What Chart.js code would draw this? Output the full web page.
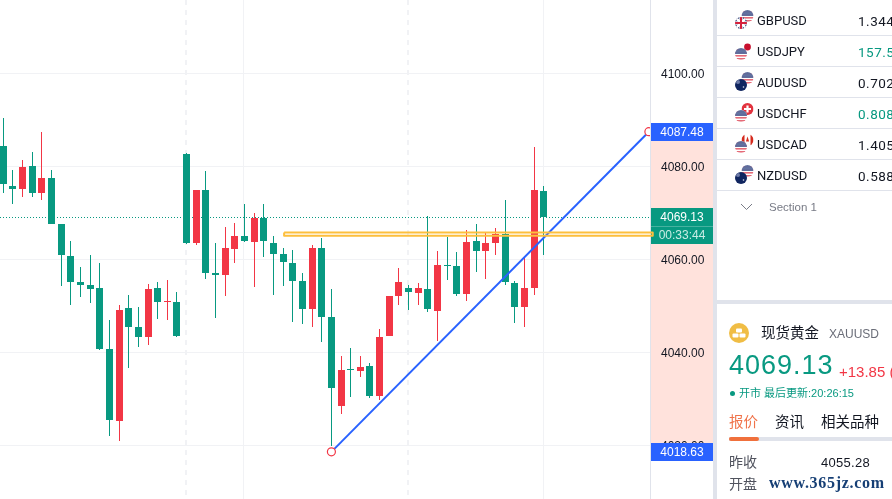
<!DOCTYPE html>
<html>
<head>
<meta charset="utf-8">
<script src="https://cdn.jsdelivr.net/npm/chart.js@4"></script>
<style>
  html, body { margin: 0; padding: 0; background: #fff; }
  body { width: 892px; height: 499px; overflow: hidden; position: relative;
         font-family: "Liberation Sans", "Noto Sans CJK SC", sans-serif; color: #131722; }
  #chart { position: absolute; left: 0; top: 0; }
  .band { position: absolute; background: #e0e3eb; }
  .abs { position: absolute; white-space: nowrap; line-height: 1; }
  .row { position: absolute; left: 717px; width: 175px; height: 30px; border-bottom: 1px solid #e0e3eb; overflow: hidden; }
  .row svg { position: absolute; left: 17px; top: 4px; }
  .row .sym { position: absolute; left: 40px; top: 9px; font-family: Roboto, sans-serif; font-size: 13px; line-height: 14px; }
  .row .px { position: absolute; left: 141px; top: 9px; font-family: Roboto, sans-serif; font-size: 13.5px; line-height: 14px; letter-spacing: .5px; }
</style>
</head>
<body>
<canvas id="chart" width="892" height="499"></canvas>

<div class="band" style="left:713px;top:0;width:4px;height:499px"></div>
<div class="band" style="left:713px;top:300px;width:179px;height:4px"></div>
<div id="watch"></div>

<svg class="abs" style="left:740px;top:203px" width="13" height="8"><path d="M1 1 L6.5 6.5 L12 1" fill="none" stroke="#787b86" stroke-width="1"/></svg>
<div class="abs" style="left:769px;top:202px;font-size:11.5px;color:#787b86">Section 1</div>

<svg class="abs" style="left:729px;top:323px" width="20" height="20">
  <circle cx="10" cy="10" r="10" fill="#f0bd45"/>
  <rect x="7" y="5.5" width="6" height="4" rx="1" fill="#fff"/>
  <rect x="3.5" y="10.5" width="6" height="4" rx="1" fill="#fff"/>
  <rect x="10.5" y="10.5" width="6" height="4" rx="1" fill="#fff"/>
</svg>
<div class="abs" style="left:761px;top:326px;font-size:14.5px;color:#131722">现货黄金</div>
<div class="abs" style="left:829px;top:328px;font-size:12px;color:#6a6d78">XAUUSD</div>
<div class="abs" style="left:729px;top:352px;font-size:27px;letter-spacing:1px;color:#089981">4069.13</div>
<div class="abs" style="left:839px;top:364px;font-size:15px;color:#f23645">+13.85 (</div>
<div class="abs" style="left:730px;top:391px;width:5px;height:5px;border-radius:50%;background:#089981"></div>
<div class="abs" style="left:739px;top:388px;font-size:11px;color:#089981">开市 最后更新:20:26:15</div>
<div class="abs" style="left:729px;top:415px;font-size:14.5px;color:#f0734a">报价</div>
<div class="abs" style="left:775px;top:415px;font-size:14.5px">资讯</div>
<div class="abs" style="left:821px;top:415px;font-size:14.5px">相关品种</div>
<div class="abs" style="left:729px;top:437px;width:163px;height:4px;background:#e0e3eb"></div>
<div class="abs" style="left:729px;top:437px;width:30px;height:4px;border-radius:2px;background:#f0703c"></div>
<div class="abs" style="left:729px;top:455px;font-size:14px;color:#50535e">昨收</div>
<div class="abs" style="left:821px;top:456px;font-size:13px;letter-spacing:.3px">4055.28</div>
<div class="abs" style="left:729px;top:477px;font-size:14px;color:#50535e">开盘</div>
<div class="abs" style="left:769px;top:475px;font-size:16px;font-weight:bold;font-family:'Liberation Serif',serif;letter-spacing:.7px;color:#163f75">www.365jz.com</div>

<script>
// candles, oldest first
const opens = [4084.4, 4075.8, 4075.2, 4080.1, 4074.3, 4077.5, 4067.6, 4060.8, 4055.2, 4054.5,
  4053.9, 4040.8, 4025.3, 4049.6, 4045.5, 4043.3, 4053.9, 4050.9, 4050.9, 4082.7,
  4063.6, 4075.0, 4057.1, 4056.7, 4062.3, 4065.1, 4063.8, 4068.9, 4063.6, 4061.2,
  4059.3, 4055.4, 4049.4, 4062.5, 4047.6, 4028.5, 4036.4, 4036.0, 4037.1, 4030.7,
  4043.6, 4052.2, 4053.9, 4052.8, 4053.7, 4048.9, 4058.8, 4058.6, 4052.6, 4064.0,
  4061.8, 4063.6, 4065.5, 4055.0, 4049.8, 4053.9, 4074.7];
const highs = [4090.4, 4079.3, 4081.4, 4083.1, 4087.4, 4079.3, 4067.6, 4064.0, 4058.4, 4061.0,
  4059.3, 4047.0, 4050.2, 4052.4, 4049.8, 4054.7, 4055.2, 4055.6, 4053.0, 4082.9,
  4075.0, 4079.0, 4063.6, 4067.0, 4067.9, 4071.9, 4070.0, 4071.9, 4065.1, 4062.5,
  4062.0, 4057.1, 4063.1, 4064.6, 4053.7, 4039.3, 4041.0, 4039.3, 4037.7, 4045.1,
  4052.2, 4058.2, 4054.5, 4055.0, 4069.4, 4061.8, 4064.8, 4061.6, 4066.3, 4067.6,
  4065.7, 4066.8, 4072.8, 4055.4, 4060.5, 4084.2, 4075.8];
const lows = [4074.4, 4071.9, 4073.4, 4073.4, 4072.8, 4067.6, 4054.3, 4050.2, 4051.9, 4050.6,
  4040.5, 4022.0, 4021.0, 4036.7, 4041.2, 4041.6, 4047.2, 4047.0, 4043.3, 4063.3,
  4063.1, 4055.8, 4047.4, 4052.2, 4059.3, 4063.8, 4054.1, 4060.5, 4052.4, 4054.3,
  4046.6, 4046.1, 4045.5, 4042.3, 4019.9, 4026.8, 4030.4, 4034.7, 4030.2, 4029.8,
  4043.6, 4050.2, 4049.1, 4050.2, 4048.7, 4042.5, 4055.6, 4052.2, 4051.1, 4057.3,
  4055.8, 4061.0, 4054.5, 4046.3, 4045.5, 4052.4, 4061.0];
const closes = [4076.2, 4075.2, 4079.9, 4074.3, 4077.5, 4067.6, 4061.0, 4055.2, 4054.5, 4053.7,
  4040.8, 4025.5, 4049.1, 4045.5, 4043.3, 4053.7, 4050.9, 4051.1, 4043.6, 4063.6,
  4075.0, 4057.1, 4056.7, 4062.5, 4065.1, 4064.0, 4068.9, 4064.0, 4061.2, 4059.5,
  4055.4, 4049.4, 4062.5, 4047.6, 4032.4, 4036.2, 4036.2, 4036.9, 4030.7, 4043.3,
  4052.2, 4055.2, 4053.0, 4053.9, 4049.4, 4058.8, 4058.6, 4052.6, 4063.8, 4061.8,
  4063.6, 4065.5, 4055.2, 4049.8, 4053.9, 4075.0, 4069.13];

const yTicks = [4100, 4080, 4060, 4040, 4020];
const solidGridX = [24.89, 55.96];
const dashedGridX = [18.91, 41.92];

const lastPrice = 4069.13;
const countdown = '00:33:44';
const trendLow = 4018.63;
const trendHigh = 4087.48;
const trendStart = 34;
const trendEnd = 66.9;
const zoneTop = 4065.8;
const zoneBottom = 4065.12;
const zoneStart = 29.1;
const zoneEnd = 67.3;

const watchSymbols = ['GBPUSD', 'USDJPY', 'AUDUSD', 'USDCHF', 'USDCAD', 'NZDUSD'];
const watchPrices = ['1.344', '157.5', '0.702', '0.808', '1.405', '0.588'];
const watchUp = [false, true, false, true, false, false];

const GREEN = '#089981';
const RED = '#f23645';
const BLUE = '#2962ff';
const XMIN = -0.342, XMAX = 67.016;

// flags for the watch list
let flagId = 0;
function flag(code, cx, cy) {
  const clip = 'f' + (flagId++);
  let art = '';
  if (code === 'US') {
    art = `<rect x="0" y="0" width="12" height="12" fill="#fff"/>` +
      [1, 4, 7, 10].map(y => `<rect x="0" y="${y}" width="12" height="1.6" fill="#e56b78"/>`).join('') +
      `<rect x="0" y="0" width="12" height="6" fill="#5a6c9c" opacity=".95"/>`;
  } else if (code === 'GB') {
    art = `<rect width="12" height="12" fill="#26356e"/><path d="M0 0L12 12M12 0L0 12" stroke="#fff" stroke-width="2.5"/>` +
      `<path d="M6 0V12M0 6H12" stroke="#fff" stroke-width="3.5"/><path d="M6 0V12M0 6H12" stroke="#d4213d" stroke-width="2"/>`;
  } else if (code === 'JP') {
    art = `<rect width="12" height="12" fill="#fff"/><circle cx="6" cy="6" r="3.4" fill="#c8102e"/>`;
  } else if (code === 'AU' || code === 'NZ') {
    art = `<rect width="12" height="12" fill="#10255f"/><circle cx="3" cy="3" r="2" fill="#6d7ba8"/><circle cx="8.5" cy="8" r=".8" fill="#dfe3ee"/>`;
  } else if (code === 'CH') {
    art = `<rect width="12" height="12" fill="#e2333f"/><path d="M6 2.5V9.5M2.5 6H9.5" stroke="#fff" stroke-width="2.2"/>`;
  } else if (code === 'CA') {
    art = `<rect width="12" height="12" fill="#fff"/><rect width="3" height="12" fill="#d52b1e"/><rect x="9" width="3" height="12" fill="#d52b1e"/><path d="M6 2.5L7.6 7.5H4.4Z" fill="#d52b1e"/>`;
  }
  return `<svg x="${cx - 6}" y="${cy - 6}" width="12" height="12"><clipPath id="${clip}"><circle cx="6" cy="6" r="6"/></clipPath><g clip-path="url(#${clip})">${art}</g></svg>`;
}

// [back flag, front flag]
const flagPairs = [['US', 'GB'], ['JP', 'US'], ['US', 'AU'], ['CH', 'US'], ['CA', 'US'], ['US', 'NZ']];
document.getElementById('watch').innerHTML = watchSymbols.map((s, i) => {
  const top = 5 + i * 31;
  return `<div class="row" style="top:${top}px">` +
    `<svg width="22" height="22">${flag(flagPairs[i][0], 13.5, 7)}${flag(flagPairs[i][1], 7, 14)}</svg>` +
    `<span class="sym">${s}</span>` +
    `<span class="px" style="color:${watchUp[i] ? GREEN : '#131722'}">${watchPrices[i]}</span></div>`;
}).join('');

function tag(ctx, scale, value, h, fill, text, color) {
  const y = scale.getPixelForValue(value);
  const x = scale.left + 1;
  ctx.fillStyle = fill;
  ctx.fillRect(x, Math.round(y - h / 2), scale.right - x - 3, h);
  ctx.fillStyle = color;
  ctx.font = '12px "Liberation Sans"';
  ctx.textAlign = 'center';
  ctx.textBaseline = 'middle';
  ctx.fillText(text, (x + scale.right - 3) / 2, Math.round(y) + 1);
}

// axis decorations: range highlight, price tags, crisp candle edges
const axisDecor = {
  id: 'axisDecor',
  beforeDraw(chart) {
    const { ctx, scales: { y } } = chart;
    const top = y.getPixelForValue(trendHigh);
    const bottom = y.getPixelForValue(trendLow);
    ctx.save();
    ctx.fillStyle = '#ffe2dc';
    ctx.fillRect(y.left, top, y.right - y.left - 3, bottom - top);
    ctx.restore();
    // tick labels sit one pixel lower in the original
    y.getLabelItems().forEach(item => { item.options.translation[1] += 1; });
  },
  beforeDatasetsDraw(chart) {
    const { ctx, scales: { y } } = chart;
    ctx.save();
    tag(ctx, y, trendHigh, 18, BLUE, trendHigh.toFixed(2), '#fff');
    tag(ctx, y, trendLow, 18, BLUE, trendLow.toFixed(2), '#fff');
    const ly = Math.round(y.getPixelForValue(lastPrice));
    ctx.fillStyle = GREEN;
    ctx.fillRect(y.left + 1, ly - 9, y.right - y.left - 4, 36);
    ctx.fillStyle = 'rgba(255,255,255,.25)';
    ctx.fillRect(y.left + 1, ly + 9, y.right - y.left - 4, 1);
    ctx.font = '12px "Liberation Sans"';
    ctx.textAlign = 'center';
    ctx.textBaseline = 'middle';
    const cx = (y.left + 1 + y.right - 3) / 2;
    ctx.fillStyle = '#fff';
    ctx.fillText(lastPrice.toFixed(2), cx, ly + 1);
    ctx.fillStyle = '#c9ece4';
    ctx.fillText(countdown, cx, ly + 19);
    ctx.restore();

    // snap candle rectangles and the dotted price line to whole pixels
    chart.data.datasets.forEach((ds, i) => {
      const meta = chart.getDatasetMeta(i);
      if (ds.id === 'lastLine') {
        meta.data.forEach(pt => { pt.y = Math.floor(pt.y) + 0.5; });
      }
      if (ds.type !== 'bar') return;
      meta.data.forEach(el => {
        el.x = Math.floor(el.x) + 0.5;
        const a = Math.round(el.y);
        let b = Math.round(el.base);
        if (a === b) b = a + 1;
        el.y = a;
        el.base = b;
        el.height = b - a;
      });
    });
  }
};

const idx = opens.map((_, i) => i);
const candleColors = idx.map(i => closes[i] >= opens[i] ? RED : GREEN);

new Chart(document.getElementById('chart'), {
  data: {
    datasets: [
      {
        type: 'line', order: 0, clip: false,
        data: [
          { x: zoneStart, y: zoneTop }, { x: zoneEnd, y: zoneTop },
          { x: zoneEnd, y: zoneBottom }, { x: zoneStart, y: zoneBottom },
          { x: zoneStart, y: zoneTop }
        ],
        borderColor: '#fdbf3c', borderWidth: 2, pointRadius: 0, tension: 0, borderJoinStyle: 'round'
      },
      {
        type: 'line', order: 1,
        data: [{ x: trendStart, y: trendLow }, { x: trendEnd, y: trendHigh }],
        borderColor: BLUE, borderWidth: 2, tension: 0,
        pointRadius: 4, pointBorderWidth: 1.2, pointBorderColor: RED, pointBackgroundColor: '#fff'
      },
      {
        type: 'bar', order: 2, grouped: false, barThickness: 7,
        data: idx.map(i => ({ x: i, y: [Math.min(opens[i], closes[i]), Math.max(opens[i], closes[i])] })),
        backgroundColor: candleColors, borderWidth: 0, borderSkipped: false, inflateAmount: 0
      },
      {
        type: 'bar', order: 3, grouped: false, barThickness: 1,
        data: idx.map(i => ({ x: i, y: [lows[i], highs[i]] })),
        backgroundColor: candleColors, borderWidth: 0, borderSkipped: false, inflateAmount: 0
      },
      {
        id: 'lastLine', type: 'line', order: 4,
        data: [{ x: XMIN, y: lastPrice }, { x: XMAX, y: lastPrice }],
        borderColor: GREEN, borderWidth: 1, borderDash: [1, 2], pointRadius: 0
      }
    ]
  },
  options: {
    responsive: false,
    animation: false,
    events: [],
    layout: { autoPadding: false, padding: { left: 0, right: 176, top: 0, bottom: 0 } },
    plugins: { legend: { display: false }, tooltip: { enabled: false } },
    scales: {
      x: {
        type: 'linear', min: XMIN, max: XMAX, offset: false,
        border: {
          display: false,
          dash: ctx => dashedGridX.includes(ctx.tick && ctx.tick.value) ? [5, 5] : []
        },
        grid: {
          offset: false,
          color: '#f1f2f5',
          tickLength: 0,
          lineWidth: ctx => dashedGridX.includes(ctx.tick && ctx.tick.value) ? 2 : 1
        },
        ticks: { display: false },
        afterBuildTicks: s => { s.ticks = [...dashedGridX, ...solidGridX].map(v => ({ value: v })); }
      },
      y: {
        type: 'linear', position: 'right', min: 4008.495, max: 4115.806,
        border: { display: true, color: '#e0e3eb' },
        grid: { color: '#f1f2f5', tickLength: 0 },
        ticks: {
          padding: 11, color: '#131722', maxRotation: 0,
          font: { family: '"Liberation Sans"', size: 12 },
          callback: v => v.toFixed(2)
        },
        afterBuildTicks: s => { s.ticks = yTicks.map(v => ({ value: v })); },
        afterFit: s => { s.width = 66; s.paddingTop = 0; s.paddingBottom = 0; }
      }
    }
  },
  plugins: [axisDecor]
});
</script>
</body>
</html>
